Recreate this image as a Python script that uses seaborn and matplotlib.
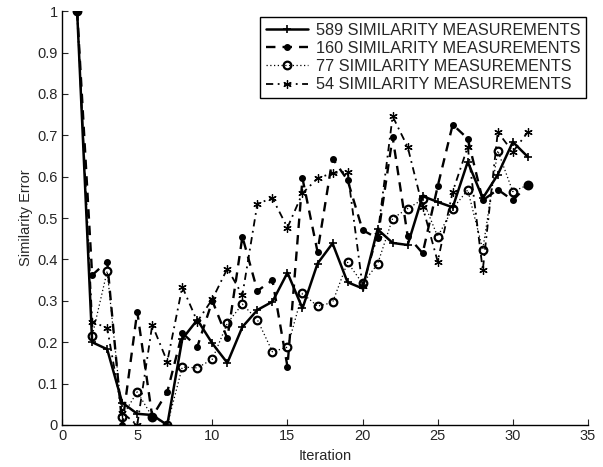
import matplotlib
matplotlib.use("Agg")
import matplotlib.pyplot as plt
import seaborn as sns
import pandas as pd

iterations = list(range(1, 32))
s589 = [1.0, 0.20, 0.183, 0.054, 0.027, 0.024, 0.0, 0.208, 0.254, 0.197, 0.15, 0.237, 0.278, 0.298, 0.368, 0.282,
        0.39, 0.439, 0.345, 0.33, 0.473, 0.44, 0.435, 0.553, 0.539, 0.526, 0.636, 0.548, 0.605, 0.684, 0.648]
s160 = [1.0, 0.362, 0.395, 0.0, 0.274, 0.02, 0.08, 0.222, 0.189, 0.30, 0.209, 0.455, 0.324, 0.35, 0.141, 0.596,
        0.419, 0.644, 0.592, 0.471, 0.451, 0.696, 0.457, 0.415, 0.577, 0.726, 0.692, 0.543, 0.569, 0.543, 0.58]
s77 = [1.0, 0.215, 0.372, 0.02, 0.08, 0.02, 0.0, 0.14, 0.138, 0.159, 0.246, 0.292, 0.254, 0.177, 0.188, 0.318,
       0.287, 0.296, 0.393, 0.342, 0.389, 0.499, 0.523, 0.545, 0.455, 0.523, 0.568, 0.424, 0.663, 0.564, 0.58]
s54 = [1.0, 0.25, 0.234, 0.03, 0.0, 0.242, 0.153, 0.334, 0.25, 0.304, 0.378, 0.314, 0.535, 0.548, 0.477, 0.56,
       0.596, 0.609, 0.612, 0.335, 0.459, 0.746, 0.672, 0.527, 0.395, 0.564, 0.672, 0.374, 0.708, 0.66, 0.708]
labels = ["589 SIMILARITY MEASUREMENTS", "160 SIMILARITY MEASUREMENTS",
          "77 SIMILARITY MEASUREMENTS", "54 SIMILARITY MEASUREMENTS"]
x_ticks = [0, 5, 10, 15, 20, 25, 30, 35]
y_ticks = [0, 0.1, 0.2, 0.3, 0.4, 0.5, 0.6, 0.7, 0.8, 0.9, 1.0]

sns.set_style("ticks")
plt.rcParams['font.family'] = ['Liberation Sans', 'DejaVu Sans']

fig = plt.figure(figsize=(6.03, 4.67), dpi=100)
ax = fig.add_axes([0.103, 0.09, 0.872, 0.886])

styles = [
    dict(linestyle='-', marker='+', markersize=6, lw=1.8, mew=1.2),
    dict(linestyle=(0, (4, 3)), marker='.', markersize=8, lw=1.7, mew=1),
    dict(linestyle=(0, (1, 2)), marker='o', markersize=5.5, lw=0.9, mew=1.6, mfc='none'),
    dict(linestyle=(0, (4, 2.5, 1, 2.5)), marker=(6, 2, 0), markersize=6, lw=1.3, mew=0.9),
]
for series, lab, st in zip([s589, s160, s77, s54], labels, styles):
    df = pd.DataFrame({"Iteration": iterations, "Error": series})
    sns.lineplot(data=df, x="Iteration", y="Error", ax=ax, color='black', label=lab,
                 linestyle=st['linestyle'], marker=st['marker'], markersize=st['markersize'],
                 linewidth=st['lw'], markeredgewidth=st['mew'], markeredgecolor='black',
                 markerfacecolor=st.get('mfc', 'black'))

ax.set_xlim(0, 35)
ax.set_ylim(0, 1)
ax.set_xticks(x_ticks)
ax.set_xticklabels([str(t) for t in x_ticks])
ax.set_yticks(y_ticks)
ax.set_yticklabels(["0", "0.1", "0.2", "0.3", "0.4", "0.5", "0.6", "0.7", "0.8", "0.9", "1"])
ax.tick_params(direction='in', length=4, labelsize=10.5, width=0.8)
ax.tick_params(axis='x', pad=3)
ax.tick_params(axis='y', pad=3)
for side in ['top', 'right']:
    ax.spines[side].set_visible(False)
for side in ['left', 'bottom']:
    ax.spines[side].set_linewidth(1.0)
    ax.spines[side].set_color('black')
ax.set_xlabel("Iteration", fontsize=10.5, labelpad=4)
ax.set_ylabel("Similarity Error", fontsize=10.5, labelpad=3)

leg = ax.legend(loc='upper right', bbox_to_anchor=(1.0, 0.99), fontsize=11.7, frameon=True,
                fancybox=False, edgecolor='black', framealpha=1, handlelength=2.6,
                handletextpad=0.5, borderpad=0.35, labelspacing=0.2, borderaxespad=0.1)
leg.get_frame().set_linewidth(1.0)

fig.savefig("out.png", dpi=100)
